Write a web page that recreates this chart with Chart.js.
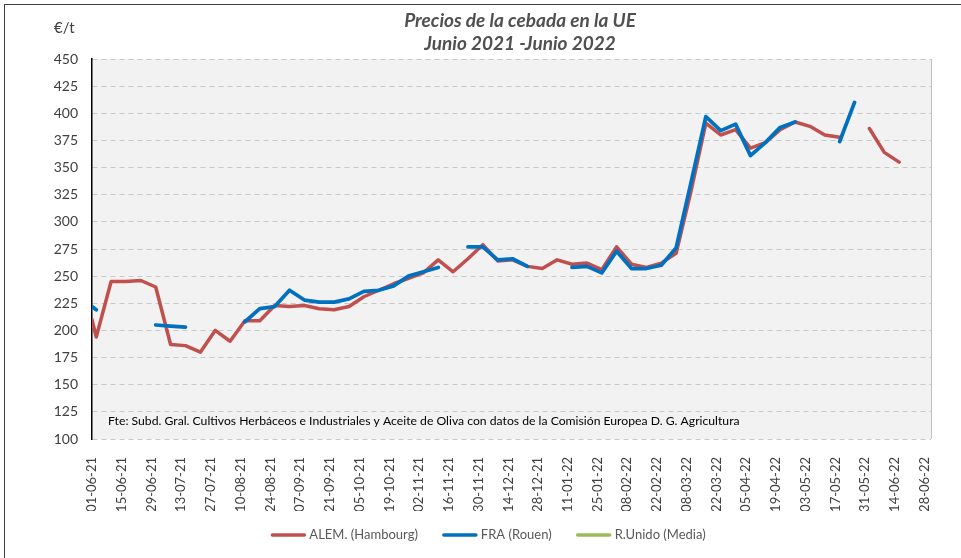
<!DOCTYPE html>
<html>
<head>
<meta charset="utf-8">
<script src="https://cdn.jsdelivr.net/npm/chart.js@4.4.1/dist/chart.umd.min.js"></script>
<style>
    html, body { margin: 0; padding: 0; background: #fff; }
    #wrap { position: absolute; left: 0; top: 0; width: 961px; height: 558px; }
</style>
</head>
<body>
<div id="wrap"><canvas id="chart"></canvas></div>
<script>
// Fechas de los datos (dd-mm-yy)
const dates = [
    '01-06-21', '03-06-21', '10-06-21', '17-06-21', '24-06-21',
    '01-07-21', '08-07-21', '15-07-21', '22-07-21', '29-07-21',
    '05-08-21', '12-08-21', '19-08-21', '26-08-21',
    '02-09-21', '09-09-21', '16-09-21', '23-09-21', '30-09-21',
    '07-10-21', '14-10-21', '21-10-21', '28-10-21',
    '04-11-21', '11-11-21', '18-11-21', '25-11-21',
    '02-12-21', '09-12-21', '16-12-21', '23-12-21', '30-12-21',
    '06-01-22', '13-01-22', '20-01-22', '27-01-22',
    '03-02-22', '10-02-22', '17-02-22', '24-02-22',
    '03-03-22', '10-03-22', '17-03-22', '24-03-22', '31-03-22',
    '07-04-22', '14-04-22', '21-04-22', '28-04-22',
    '05-05-22', '12-05-22', '19-05-22', '26-05-22',
    '02-06-22', '09-06-22', '16-06-22'
];

// €/t
const alemValues = [
    210, 194, 245, 245, 246,
    240, 187, 186, 180, 200,
    190, 209, 209, 223,
    222, 223, 220, 219, 222,
    231, 237, 243, 248,
    253, 265, 254, 266,
    279, 264, 265, 259, 257,
    265, 261, 262, 256,
    277, 261, 258, 262,
    271, 328, 391, 380, 385,
    368, 373, 385, 392,
    388, 380, 378, null,
    386, 364, 355
];

const fraValues = [
    222, 219, null, null, null,
    205, 204, 203, null, null,
    null, 208, 220, 222,
    237, 228, 226, 226, 229,
    236, 237, 241, 250,
    254, 258, null, 277,
    277, 265, 266, 259, null,
    null, 258, 259, 253,
    273, 257, 257, 260,
    276, 336, 397, 384, 390,
    361, 373, 387, 392,
    null, null, 374, 410,
    null, null, null
];

const ukValues = []; // sin datos en el periodo

const tickLabels = [
    '01-06-21', '15-06-21', '29-06-21', '13-07-21', '27-07-21', '10-08-21',
    '24-08-21', '07-09-21', '21-09-21', '05-10-21', '19-10-21', '02-11-21',
    '16-11-21', '30-11-21', '14-12-21', '28-12-21', '11-01-22', '25-01-22',
    '08-02-22', '22-02-22', '08-03-22', '22-03-22', '05-04-22', '19-04-22',
    '03-05-22', '17-05-22', '31-05-22', '14-06-22', '28-06-22'
];
const axisStart = '01-06-21';
const axisEnd = '01-07-22';

// days since axisStart
function dayOf(s) {
    const [d, m, y] = s.split('-').map(Number);
    const [d0, m0, y0] = axisStart.split('-').map(Number);
    return (Date.UTC(2000 + y, m - 1, d) - Date.UTC(2000 + y0, m0 - 1, d0)) / 86400000;
}

function toPoints(values) {
    return values.map((v, i) => ({ x: dayOf(dates[i]), y: v }));
}

const FONT = 'Lato, "Open Sans", sans-serif';

// legend drawn by hand so it sits where the Excel one does
function drawLegend(chart) {
    const { ctx } = chart;
    const sample = 34, gapText = 4, gapItem = 25;
    ctx.font = '13px ' + FONT;
    const items = chart.data.datasets.map(ds => ({
        label: ds.label, color: ds.borderColor, w: sample + gapText + ctx.measureText(ds.label).width
    }));
    const total = items.reduce((s, it) => s + it.w, 0) + gapItem * (items.length - 1);
    let x = 488.5 - total / 2;
    const y = 535;
    items.forEach(it => {
        ctx.strokeStyle = it.color;
        ctx.lineWidth = 3.5;
        ctx.lineCap = 'round';
        ctx.beginPath();
        ctx.moveTo(x + 1, y);
        ctx.lineTo(x + sample - 1, y);
        ctx.stroke();
        ctx.fillStyle = '#595959';
        ctx.textAlign = 'left';
        ctx.textBaseline = 'middle';
        ctx.fillText(it.label, x + sample + gapText, y);
        x += it.w + gapItem;
    });
    ctx.textBaseline = 'alphabetic';
}

const decorPlugin = {
    id: 'decor',
    beforeDraw(chart) {
        const { ctx, chartArea: a } = chart;
        ctx.save();
        ctx.fillStyle = '#ffffff';
        ctx.fillRect(0, 0, chart.width, chart.height);
        ctx.fillStyle = '#f2f2f2';
        ctx.fillRect(a.left, a.top, a.right - a.left, a.bottom - a.top);
        ctx.restore();
    },
    afterDraw(chart) {
        const { ctx, chartArea: a } = chart;
        ctx.save();
        // outer frame
        ctx.strokeStyle = '#404040';
        ctx.lineWidth = 1;
        ctx.strokeRect(4.5, 4.5, 2000, 2000);
        // plot area right edge
        ctx.strokeStyle = '#c0c0c0';
        ctx.beginPath();
        ctx.moveTo(Math.round(a.right) + 0.5, a.top);
        ctx.lineTo(Math.round(a.right) + 0.5, a.bottom);
        ctx.stroke();
        // title
        ctx.fillStyle = '#505050';
        ctx.textAlign = 'center';
        ctx.font = 'italic bold 19px ' + FONT;
        ctx.fillText('Precios de la cebada en la UE', 520, 27);
        ctx.fillText('Junio 2021 -Junio 2022', 520, 50);
        // unit
        ctx.textAlign = 'left';
        ctx.fillStyle = '#404040';
        ctx.font = '15px ' + FONT;
        ctx.fillText('€/t', 54, 33);
        // source note
        ctx.fillStyle = '#000';
        ctx.font = '12.2px ' + FONT;
        ctx.fillText('Fte: Subd. Gral. Cultivos Herbáceos e Industriales y Aceite de Oliva con datos de la Comisión Europea D. G. Agricultura', 108, 425);
        drawLegend(chart);
        ctx.restore();
    }
};

const ctx = document.getElementById('chart').getContext('2d');
new Chart(ctx, {
    type: 'line',
    data: {
        datasets: [{
            label: 'ALEM. (Hambourg)',
            data: toPoints(alemValues),
            borderColor: '#C0504D',
            backgroundColor: '#C0504D',
            borderWidth: 3.5,
            order: 2
        }, {
            label: 'FRA (Rouen)',
            data: toPoints(fraValues),
            borderColor: '#0070C0',
            backgroundColor: '#0070C0',
            borderWidth: 3.75,
            order: 1
        }, {
            label: 'R.Unido (Media)',
            data: ukValues,
            borderColor: '#9BBB59',
            backgroundColor: '#9BBB59',
            borderWidth: 3.5,
            order: 3
        }]
    },
    options: {
        responsive: true,
        maintainAspectRatio: false,
        animation: false,
        spanGaps: false,
        elements: {
            point: { radius: 0, hoverRadius: 0 },
            line: { tension: 0, borderCapStyle: 'round', borderJoinStyle: 'round' }
        },
        layout: { padding: { left: 46, top: 59, right: 30, bottom: 47 } },
        scales: {
            x: {
                type: 'linear',
                min: 0,
                max: dayOf(axisEnd),
                afterBuildTicks: (scale) => {
                    scale.ticks = tickLabels.map(s => ({ value: dayOf(s) }));
                },
                afterFit: (scale) => { scale.height = 72; },
                grid: { display: false },
                border: { display: false },
                ticks: {
                    autoSkip: false,
                    minRotation: 90,
                    maxRotation: 90,
                    padding: 10,
                    color: '#404040',
                    font: { family: FONT, size: 13 },
                    callback: (value, index) => tickLabels[index]
                }
            },
            y: {
                min: 100,
                max: 450,
                afterFit: (scale) => { scale.width = 46; },
                grid: { color: '#c8c8c8', lineWidth: 1, drawTicks: false },
                border: { display: true, color: '#000', width: 1.5, dash: [5, 4] },
                ticks: {
                    stepSize: 25,
                    padding: 14,
                    color: '#404040',
                    font: { family: FONT, size: 14 }
                }
            }
        },
        plugins: {
            legend: { display: false },
            tooltip: { enabled: false },
            title: { display: false }
        }
    },
    plugins: [decorPlugin]
});
</script>
</body>
</html>
